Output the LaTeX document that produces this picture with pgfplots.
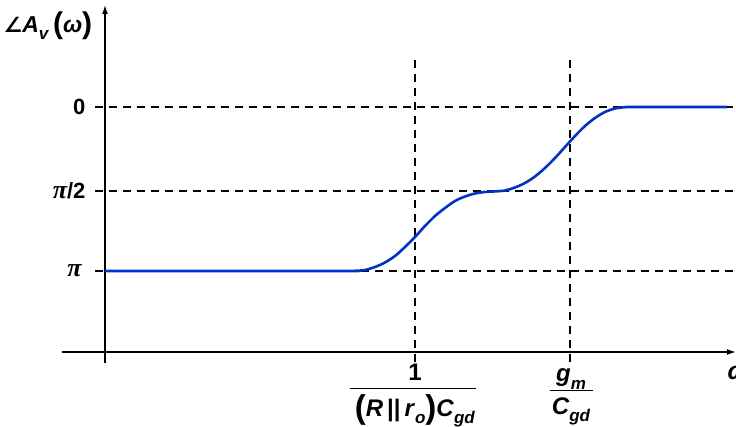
\documentclass[border=0pt]{standalone}
\usepackage{fontspec}
\setmainfont{Liberation Sans}
\newfontfamily\symf{DejaVu Sans}
\newfontfamily\pif{Liberation Serif}
\usepackage{pgfplots}
\pgfplotsset{compat=1.18}
\usetikzlibrary{arrows.meta}
\definecolor{curve}{RGB}{0,50,200}
\newcommand{\sub}[1]{\raisebox{-0.3em}{\fontsize{17}{17}\selectfont #1}}
\newcommand{\bigp}[1]{{\fontsize{33}{33}\selectfont\upshape\raisebox{-0.05em}{#1}}}
\newcommand{\tp}[1]{{\fontsize{30}{30}\selectfont\upshape\raisebox{-0.03em}{#1}}}
\begin{document}
\begin{tikzpicture}
\begin{axis}[x=1pt,y=1pt,anchor=origin,at={(0,0)},
  axis lines=middle, xmin=-43,xmax=631,ymin=-11,ymax=347,
  xtick=\empty, ytick=\empty, clip=false,
  axis line style={line width=1.4pt,-{Latex[length=9pt,width=6pt]}}]
% reference dashed lines
\addplot[black,line width=1.3pt,dash pattern=on 8pt off 6pt] coordinates {(-10,245)(631,245)};
\addplot[black,line width=1.3pt,dash pattern=on 8pt off 6pt] coordinates {(-10,161)(631,161)};
\addplot[black,line width=1.3pt,dash pattern=on 8pt off 6pt] coordinates {(-10,81)(631,81)};
\addplot[black,line width=1.3pt,dash pattern=on 8pt off 6pt] coordinates {(310,-10)(310,297)};
\addplot[black,line width=1.3pt,dash pattern=on 8pt off 6pt] coordinates {(465,-10)(465,297)};
% phase curve
\addplot[curve,line width=2.6pt,smooth,tension=0.5,line join=round] coordinates {
(0,81)(235,81)(250,81.2)(260,82)(270,85)(280,89.5)(290,96)(300,105)(310,115)(320,126)(330,136)(340,144)(350,151)(360,155.5)(370,158.5)(380,160)(390,160.6)(400,161.5)(410,164.5)(420,169)(430,175.5)(440,184)(450,194)(460,205)(470,216)(480,226)(490,234)(500,240)(510,243.5)(520,244.8)(530,245)(622,245)};
% labels
\node[anchor=east,font=\fontsize{22}{22}\selectfont\bfseries] at (axis cs:-16,245) {0};
\node[anchor=east,font=\fontsize{22}{22}\selectfont\bfseries] at (axis cs:-16,161) {{\pif\itshape\fontsize{26}{26}\selectfont π}/2};
\node[anchor=east,font=\fontsize{26}{26}\selectfont\bfseries\itshape] at (axis cs:-20,81) {\pif π};
\node[anchor=west,font=\fontsize{23}{23}\selectfont\bfseries] at (axis cs:-105,326) {{\symf\fontsize{21}{21}\selectfont ∠}\textit{A}\sub{\textit{v}}\,\tp{(}\textit{ω}\tp{)}};
\node[anchor=west,font=\fontsize{25}{25}\selectfont\bfseries\itshape] at (axis cs:619,-21) {ω};
\node[font=\fontsize{24}{24}\selectfont\bfseries] at (axis cs:310,-20) {1};
\draw[line width=1pt] (axis cs:245,-37) -- (axis cs:371,-37);
\node[font=\fontsize{24}{24}\selectfont\bfseries] at (axis cs:310,-59) {\bigp{(}\textit{R}\,||\,\textit{r}\sub{\textit{o}}\bigp{)}\textit{C}\sub{\textit{gd}}};
\node[font=\fontsize{24}{24}\selectfont\bfseries\itshape] at (axis cs:466,-27) {g\sub{m}};
\draw[line width=1pt] (axis cs:445,-39) -- (axis cs:488,-39);
\node[font=\fontsize{24}{24}\selectfont\bfseries\itshape] at (axis cs:466,-59) {C\sub{gd}};
\end{axis}
\pgfresetboundingbox
\path (-105pt,-75pt) rectangle (631pt,352pt);
\end{tikzpicture}
\end{document}
